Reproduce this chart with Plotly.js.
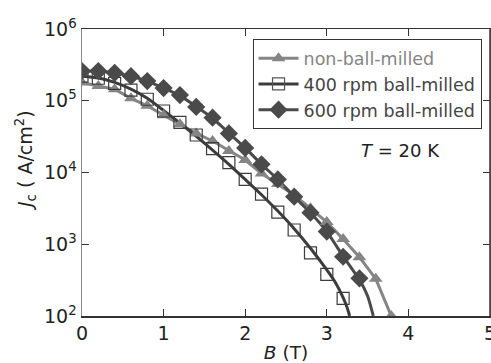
<!DOCTYPE html>
<html><head><meta charset="utf-8">
<script src="https://cdn.plot.ly/plotly-3.0.1.min.js"></script>
<style>html,body{margin:0;padding:0;background:#fff;}#chart{width:491px;height:363px;}</style>
</head><body><div id="chart"></div>
<script>
// Non-ball-milled (triangles)
const nbmB = [0,0.2,0.4,0.6,0.8,1.0,1.2,1.4,1.6,1.8,2.0,2.2,2.4,2.6,2.8,3.0,3.2,3.4,3.6,3.79];
const nbmJ = [1.79e5,1.61e5,1.45e5,1.08e5,8.5e4,6.3e4,4.7e4,3.5e4,2.75e4,2.0e4,1.49e4,9.7e3,6.9e3,4.86e3,3.17e3,2.04e3,1.18e3,660,330,100];
// 400 rpm ball-milled (open squares)
const r400B = [0,0.2,0.4,0.6,0.8,1.0,1.2,1.4,1.6,1.8,2.0,2.2,2.4,2.6,2.8,3.0,3.2];
const r400J = [2.21e5,2.06e5,1.75e5,1.41e5,1.05e5,7.2e4,5.0e4,3.33e4,2.15e4,1.37e4,8.0e3,5.0e3,2.81e3,1.58e3,760,380,176];
// 400 rpm fit curve
const r400FitB = [0,0.2,0.4,0.6,0.8,1.0,1.2,1.4,1.6,1.8,2.0,2.2,2.4,2.6,2.8,3.0,3.1,3.2,3.25,3.28];
const r400FitJ = [2.2e5,2.08e5,1.8e5,1.45e5,1.08e5,7.3e4,4.9e4,3.2e4,2.05e4,1.3e4,8.0e3,4.9e3,2.9e3,1.65e3,880,440,300,180,130,100];
// 600 rpm ball-milled (diamonds)
const r600B = [0,0.2,0.4,0.6,0.8,1.0,1.2,1.4,1.6,1.8,2.0,2.2,2.4,2.6,2.8,3.0,3.2,3.4];
const r600J = [2.6e5,2.6e5,2.45e5,2.2e5,1.88e5,1.5e5,1.2e5,8.2e4,5.8e4,3.5e4,2.2e4,1.3e4,8.0e3,4.6e3,2.75e3,1.5e3,670,335];
// 600 rpm fit curve
const r600FitB = [0,0.2,0.4,0.6,0.8,1.0,1.2,1.4,1.6,1.8,2.0,2.2,2.4,2.6,2.8,3.0,3.2,3.4,3.5,3.57];
const r600FitJ = [2.6e5,2.58e5,2.44e5,2.2e5,1.88e5,1.5e5,1.18e5,8.3e4,5.7e4,3.55e4,2.2e4,1.3e4,8.0e3,4.6e3,2.75e3,1.5e3,680,320,190,100];

const yTickVals = [1e2,1e3,1e4,1e5,1e6];
const yTickText = ['10<sup>2</sup>','10<sup>3</sup>','10<sup>4</sup>','10<sup>5</sup>','10<sup>6</sup>'];
const xTickVals = [0,1,2,3,4,5];

const cGray = '#858585', cDark = '#3c3c3c', cDia = '#4a4a4a';
const FAM = 'DejaVu Sans, sans-serif';

const traces = [
  {x:nbmB, y:nbmJ, mode:'lines', line:{color:cGray, width:3}, showlegend:false, hoverinfo:'skip'},
  {x:r400FitB, y:r400FitJ, mode:'lines', line:{color:cDark, width:3, shape:'spline', smoothing:0.6}, showlegend:false, hoverinfo:'skip'},
  {x:r600FitB, y:r600FitJ, mode:'lines', line:{color:cDia, width:3, shape:'spline', smoothing:0.6}, showlegend:false, hoverinfo:'skip'},
  {x:nbmB, y:nbmJ, mode:'markers', marker:{symbol:'triangle-up', size:12, color:cGray}, showlegend:false},
  {x:r400B, y:r400J, mode:'markers', marker:{symbol:'square-open', size:12, color:cDark, line:{width:1.2}}, showlegend:false},
  {x:r600B, y:r600J, mode:'markers', marker:{symbol:'diamond', size:14, color:cDia}, showlegend:false},
  {x:[null], y:[null], mode:'lines+markers', name:'<span style="color:#858585">non-ball-milled</span>', line:{color:cGray, width:3}, marker:{symbol:'triangle-up', size:12, color:cGray}},
  {x:[null], y:[null], mode:'lines+markers', name:'400 rpm ball-milled', line:{color:cDark, width:3}, marker:{symbol:'square-open', size:12, color:'#555', line:{width:1.2}}},
  {x:[null], y:[null], mode:'lines+markers', name:'600 rpm ball-milled', line:{color:cDia, width:3}, marker:{symbol:'diamond', size:14, color:cDia}}
];

const layout = {
  width:491, height:363,
  margin:{l:82, r:1, t:29, b:47},
  paper_bgcolor:'#fff', plot_bgcolor:'#fff',
  font:{family:FAM, size:18, color:'#222'},
  showlegend:true,
  legend:{x:0.418, y:0.964, xanchor:'left', yanchor:'top', bgcolor:'#fff', bordercolor:'#333', borderwidth:1,
          font:{family:FAM, size:17.5, color:'#444'}, tracegroupgap:0, itemwidth:40},
  xaxis:{range:[0,5], tickvals:xTickVals, ticks:'inside', ticklen:7, tickcolor:'#333', showline:true, linecolor:'#333', linewidth:1.5,
         mirror:'ticks', showgrid:false, zeroline:false, tickfont:{family:FAM, size:19, color:'#222'}, ticklabeloverflow:'allow',
         title:{text:'<i>B</i> (T)', font:{family:FAM, size:18.5, color:'#222'}, standoff:3}},
  yaxis:{type:'log', range:[2,6], tickvals:yTickVals, ticktext:yTickText, ticks:'inside', ticklen:7, tickcolor:'#333',
         showline:true, linecolor:'#888', linewidth:1.5, mirror:'ticks', showgrid:false, zeroline:false,
         tickfont:{family:FAM, size:19, color:'#222'}},
  shapes:[{type:'line', xref:'paper', yref:'paper', x0:1, x1:1, y0:0, y1:1, line:{color:'#333', width:1.5}}],
  annotations:[
    {x:3.9, y:Math.log10(2e4), xref:'x', yref:'y', text:'<i>T</i> = 20 K', showarrow:false,
     font:{family:FAM, size:18, color:'#222'}},
    {x:-0.1397, y:0.54, xref:'paper', yref:'paper', text:'<i>J</i><sub>c</sub> ( A/cm<sup>2</sup>)', textangle:-90,
     showarrow:false, xanchor:'center', yanchor:'middle', font:{family:FAM, size:19, color:'#222'}}
  ]
};
Plotly.newPlot('chart', traces, layout, {staticPlot:true});
</script></body></html>
